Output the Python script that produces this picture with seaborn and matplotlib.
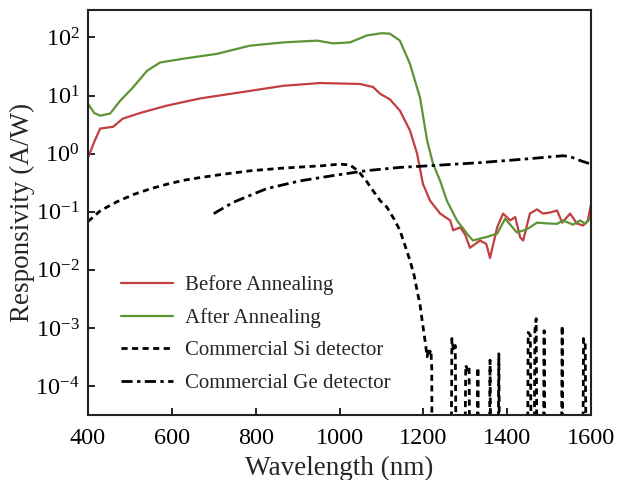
import numpy as np
import pandas as pd
import matplotlib
matplotlib.use("Agg")
import matplotlib.pyplot as plt
import matplotlib.ticker as mticker
import seaborn as sns

# Responsivity spectra (A/W) versus wavelength (nm)
before_wl = [400, 415, 429, 445, 460, 483, 524, 588, 667, 786, 866, 953, 1049, 1080,
             1097, 1120, 1144, 1168, 1185, 1199, 1216, 1240, 1264, 1271, 1288, 1300,
             1311, 1335, 1350, 1359, 1376, 1390, 1407, 1419, 1431, 1438, 1454, 1471,
             1485, 1502, 1519, 1531, 1550, 1566, 1581, 1592, 1600]
before_val = [0.85, 1.6, 2.7, 2.8, 2.9, 4.0, 5.0, 6.7, 8.9, 12.0, 14.7, 16.4, 15.8, 14.0,
              10.7, 8.6, 5.5, 2.5, 1.0, 0.30, 0.155, 0.093, 0.071, 0.048, 0.054, 0.04,
              0.024, 0.032, 0.028, 0.016, 0.054, 0.093, 0.071, 0.081, 0.036, 0.032, 0.093, 0.11,
              0.093, 0.097, 0.105, 0.065, 0.093, 0.063, 0.058, 0.07, 0.138]

after_wl = [400, 415, 429, 453, 476, 507, 541, 572, 627, 707, 786, 866, 946, 985, 1025,
            1065, 1100, 1120, 1144, 1168, 1192, 1209, 1223, 1240, 1256, 1280, 1304, 1318,
            1352, 1376, 1395, 1423, 1447, 1471, 1495, 1519, 1533, 1557, 1574, 1586, 1600]
after_val = [7.2, 5.0, 4.5, 4.9, 8.0, 13.7, 26.7, 37.0, 43.0, 52.0, 72.0, 82.0, 88.0, 79.0, 82.0,
             108.0, 118.0, 116.0, 88.0, 35.0, 9.2, 1.67, 0.67, 0.34, 0.155, 0.071, 0.042, 0.032,
             0.037, 0.042, 0.076, 0.044, 0.05, 0.065, 0.063, 0.062, 0.071, 0.06, 0.071, 0.062, 0.08]

# Commercial Si detector; 1e-7 marks readings that fall below the plotted range
si_wl = [400, 430, 470, 510, 550, 590, 630, 670, 720, 790, 860, 910, 960, 1000, 1025,
         1045, 1065, 1080, 1097, 1113, 1130, 1144, 1158, 1168, 1178, 1185, 1192, 1197,
         1204, 1209, 1212, 1215, 1218, 1220, 1221,
         1265, 1268, 1272, 1276, 1280,
         1297, 1301, 1305, 1309, 1312,
         1327, 1330, 1333,
         1356, 1359, 1362,
         1377, 1380, 1383,
         1447, 1450, 1455, 1459,
         1463, 1466, 1469, 1472,
         1485, 1488, 1491,
         1528, 1531, 1534,
         1579, 1582, 1586, 1590, 1600]
si_val = [0.068, 0.105, 0.15, 0.2, 0.25, 0.30, 0.35, 0.39, 0.44, 0.51, 0.56, 0.59, 0.62, 0.66, 0.64,
          0.5, 0.33, 0.23, 0.155, 0.12, 0.075, 0.048, 0.024, 0.0145, 0.008, 0.0044, 0.0025, 0.00135,
          0.0006, 3.2e-4, 4.5e-4, 3.7e-4, 4.2e-4, 2e-4, 1e-7,
          1e-7, 6.6e-4, 4e-4, 5e-4, 1e-7,
          1e-7, 2.3e-4, 1.9e-4, 2.2e-4, 1e-7,
          1e-7, 2.1e-4, 1e-7,
          1e-7, 2.8e-4, 1e-7,
          1e-7, 3.6e-4, 1e-7,
          1e-7, 8.4e-4, 7.5e-4, 1e-7,
          1e-7, 9e-4, 1.45e-3, 1e-7,
          1e-7, 9e-4, 1e-7,
          1e-7, 1.1e-3, 1e-7,
          1e-7, 6.6e-4, 5.5e-4, 1e-7, 1e-7]

# Commercial Ge detector
ge_wl = [700, 746, 826, 906, 985, 1065, 1144, 1216, 1335, 1454, 1533, 1550, 1574, 1600]
ge_val = [0.093, 0.145, 0.25, 0.34, 0.42, 0.51, 0.58, 0.62, 0.70, 0.82, 0.92, 0.89, 0.76, 0.66]

labels = ["Before Annealing", "After Annealing", "Commercial Si detector", "Commercial Ge detector"]
colors = ["#C23E40", "#5C9434", "black", "black"]

x_ticks = [400, 600, 800, 1000, 1200, 1400, 1600]
y_ticks = [1e-4, 1e-3, 1e-2, 1e-1, 1e0, 1e1, 1e2]

sns.set_theme(style="ticks")
plt.rcParams["font.family"] = ["Liberation Serif", "DejaVu Serif"]
plt.rcParams["mathtext.fontset"] = "custom"
plt.rcParams["mathtext.rm"] = "Liberation Serif"
plt.rcParams["mathtext.it"] = "Liberation Serif:italic"
plt.rcParams["axes.unicode_minus"] = False

fig = plt.figure(figsize=(6.17, 4.8), dpi=100)
ax = fig.add_axes([0.1426, 0.135, 0.958 - 0.1426, 0.979 - 0.135])

series = [
    (before_wl, before_val, "-", 1.6),
    (after_wl, after_val, "-", 1.6),
    (si_wl, si_val, (0, (2.2, 1.6)), 2.0),
    (ge_wl, ge_val, (0, (4.0, 1.6, 1.2, 1.6)), 2.0),
]
for (wl, val, ls, lw), lab, col in zip(series, labels, colors):
    df = pd.DataFrame({"wl": wl, "r": val})
    sns.lineplot(data=df, x="wl", y="r", ax=ax, color=col, linestyle=ls,
                 linewidth=lw, label=lab, errorbar=None, sort=True)

ax.set_yscale("log")
ax.set_xlim(400, 1600)
ax.set_ylim(10 ** -4.5, 10 ** 2.47)
ax.set_xticks(x_ticks)
ax.yaxis.set_major_locator(mticker.FixedLocator(y_ticks))
ax.yaxis.set_major_formatter(mticker.LogFormatterSciNotation())
ax.yaxis.set_minor_locator(mticker.NullLocator())

ax.set_xlabel("Wavelength (nm)", fontsize=19.5, labelpad=5)
ax.set_ylabel("Responsivity (A/W)", fontsize=19.5, labelpad=0)
ax.tick_params(axis="both", which="major", direction="in", length=5, width=1.2,
               labelsize=17.5, colors="black")
ax.tick_params(axis="x", pad=9)
ax.tick_params(axis="y", pad=6)
for sp in ax.spines.values():
    sp.set_linewidth(1.5)
    sp.set_color("#222222")

leg = ax.legend(loc="upper left", bbox_to_anchor=(0.029, 0.392), frameon=False,
                fontsize=15, handlelength=2.5, handletextpad=0.55, labelspacing=0.62)

fig.savefig("out.png", dpi=100)
